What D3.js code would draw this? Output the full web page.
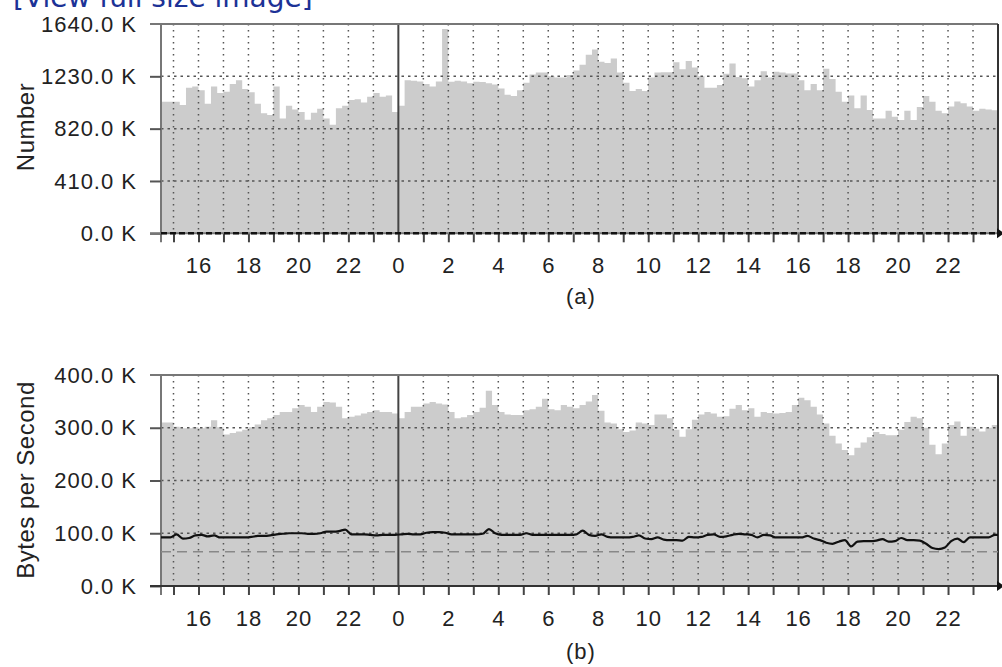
<!DOCTYPE html>
<html>
<head>
<meta charset="utf-8">
<script src="https://d3js.org/d3.v7.min.js"></script>
<style>
  body { margin: 0; background: #fff; }
  svg { display: block; font-family: "Liberation Sans", Arial, Helvetica, sans-serif; }
</style>
</head>
<body>
<div id="chart"></div>
<script>
// hours relative to midnight, 15 minute bins from 14:30 to 24:00 next day
var hourStart = -9.5;
var hourEnd = 24;
var binHours = 0.25;

// (a) number per bin, in K
var numberK = [
  1030, 1030, 1030, 1005, 1140, 1150, 1120, 1015, 1150, 1100,
  1110, 1170, 1200, 1130, 1105, 1015, 940, 927, 1150, 900,
  1000, 970, 950, 890, 945, 975, 900, 850, 980, 1000,
  1045, 1050, 1025, 1070, 1100, 1070, 1080, 950, 1000, 1200,
  1195, 1190, 1170, 1150, 1190, 1600, 1188, 1195, 1190, 1175,
  1188, 1185, 1175, 1165, 1135, 1085, 1075, 1120, 1180, 1245,
  1260, 1260, 1230, 1220, 1220, 1240, 1275, 1320, 1400, 1440,
  1345, 1335, 1370, 1260, 1180, 1115, 1130, 1115, 1220, 1260,
  1262, 1262, 1340, 1285, 1350, 1300, 1230, 1140, 1140, 1162,
  1250, 1330, 1225, 1214, 1150, 1200, 1270, 1220, 1266, 1260,
  1253, 1253, 1200, 1120, 1170, 1120, 1290, 1210, 1110, 1030,
  1080, 980, 1080, 967, 900, 900, 960, 914, 888, 960,
  888, 990, 1075, 1030, 960, 940, 993, 1032, 1020, 993,
  960, 975, 970, 965
];

// (b) bytes per second per bin, in K
var bytesK = [
  310, 310, 302, 299, 299, 301, 299, 302, 314, 301,
  287, 290, 293, 296, 301, 306, 314, 318, 324, 330,
  330, 337, 343, 340, 330, 340, 349, 348, 340, 318,
  321, 323, 327, 330, 333, 330, 330, 327, 318, 330,
  340, 340, 346, 349, 346, 344, 330, 318, 320, 324,
  330, 338, 370, 343, 330, 325, 324, 324, 333, 335,
  340, 355, 335, 333, 343, 340, 337, 343, 350, 362,
  332, 310, 308, 297, 292, 295, 310, 308, 305, 325,
  325, 318, 296, 283, 297, 315, 325, 330, 327, 321,
  322, 336, 343, 333, 337, 321, 330, 328, 327, 328,
  330, 343, 357, 352, 340, 325, 308, 285, 270, 258,
  248, 262, 272, 282, 292, 288, 286, 286, 296, 311,
  321, 318, 300, 268, 250, 270, 305, 312, 285, 302,
  298, 293, 300, 305
];

// (b) black line, in K
var rateK = [
  92, 92, 98, 90, 91, 96, 97, 94, 96, 92,
  92, 92, 92, 92, 93, 95, 95, 96, 98, 99,
  100, 100, 100, 99, 99, 100, 103, 103, 104, 107,
  98, 98, 98, 97, 96, 97, 97, 97, 98, 99,
  98, 98, 101, 102, 102, 101, 98, 98, 98, 98,
  98, 99, 108, 100, 97, 97, 97, 97, 100, 97,
  97, 97, 97, 97, 97, 97, 98, 105, 97, 95,
  98, 93, 92, 92, 92, 93, 96, 90, 89, 92,
  88, 87, 87, 86, 93, 92, 93, 97, 98, 93,
  94, 97, 99, 98, 97, 92, 97, 96, 92, 92,
  92, 92, 92, 95, 90, 87, 82, 80, 84, 87,
  75, 84, 85, 85, 86, 89, 84, 85, 91, 87,
  87, 86, 80, 72, 70, 73, 85, 90, 83, 92,
  92, 92, 92, 97
];

var numberTicks = [0, 410, 820, 1230, 1640];
var bytesTicks = [0, 100, 200, 300, 400];
var hourTicks = d3.range(-9, 24);
var hourLabels = d3.range(-8, 24, 2);
var bytesDashK = 65;

var svgWidth = 1002;
var svgHeight = 667;

var svg = d3.select("#chart")
  .append("svg")
  .attr("width", svgWidth)
  .attr("height", svgHeight);

// cut-off link text at the very top
svg.append("text")
  .attr("x", 13)
  .attr("y", 7)
  .attr("font-family", "'DejaVu Sans', Verdana, sans-serif")
  .attr("font-size", 28)
  .attr("fill", "#1c3296")
  .text("[View full size image]");

var xScale = d3.scaleLinear()
  .domain([hourStart, hourEnd])
  .range([161, 998]);

var fmtK = v => d3.format(".1f")(v) + " K";

function drawPanel(cfg) {
  var g = svg.append("g");
  var yScale = d3.scaleLinear()
    .domain([0, cfg.ticks[cfg.ticks.length - 1]])
    .range([cfg.bottom, cfg.top]);

  // step area
  var pts = cfg.values.map((v, i) => [hourStart + i * binHours, v]);
  pts.push([hourEnd, cfg.values[cfg.values.length - 1]]);

  var area = d3.area()
    .x(d => xScale(d[0]))
    .y0(yScale(0))
    .y1(d => yScale(d[1]))
    .curve(d3.curveStepAfter);

  g.append("path")
    .datum(pts)
    .attr("d", area)
    .attr("fill", "#cccccc");

  // dotted grid
  g.selectAll(".vgrid")
    .data(hourTicks.filter(h => h !== 0))
    .enter()
    .append("line")
    .attr("x1", d => xScale(d))
    .attr("x2", d => xScale(d))
    .attr("y1", cfg.top)
    .attr("y2", cfg.bottom)
    .attr("stroke", "#555")
    .attr("stroke-width", 1.5)
    .attr("stroke-dasharray", "1.5,4.5");

  g.selectAll(".hgrid")
    .data(cfg.ticks.slice(1, -1))
    .enter()
    .append("line")
    .attr("x1", xScale(hourStart))
    .attr("x2", xScale(hourEnd))
    .attr("y1", d => yScale(d))
    .attr("y2", d => yScale(d))
    .attr("stroke", "#555")
    .attr("stroke-width", 1.5)
    .attr("stroke-dasharray", "2.5,4");

  // midnight line
  g.append("line")
    .attr("x1", xScale(0)).attr("x2", xScale(0))
    .attr("y1", cfg.top).attr("y2", cfg.bottom)
    .attr("stroke", "#444")
    .attr("stroke-width", 2);

  // frame
  g.append("line")
    .attr("x1", 150).attr("x2", xScale(hourEnd))
    .attr("y1", cfg.top).attr("y2", cfg.top)
    .attr("stroke", "#777").attr("stroke-width", 2);
  g.append("line")
    .attr("x1", xScale(hourStart)).attr("x2", xScale(hourStart))
    .attr("y1", cfg.top).attr("y2", cfg.bottom + 9)
    .attr("stroke", "#777").attr("stroke-width", 2);
  g.append("line")
    .attr("x1", xScale(hourEnd)).attr("x2", xScale(hourEnd))
    .attr("y1", cfg.top).attr("y2", cfg.bottom)
    .attr("stroke", "#333").attr("stroke-width", 2);

  // y axis
  var yAxis = g.append("g")
    .attr("transform", `translate(${xScale(hourStart)}, 0)`)
    .call(d3.axisLeft(yScale)
      .tickValues(cfg.ticks.slice(0, -1))
      .tickSize(11)
      .tickPadding(13)
      .tickFormat(fmtK));
  yAxis.select(".domain").remove();
  yAxis.selectAll("line").attr("stroke", "#555").attr("stroke-width", 2);

  g.append("text")
    .attr("x", xScale(hourStart) - 24)
    .attr("y", cfg.top)
    .attr("dy", "0.35em")
    .attr("text-anchor", "end")
    .text(fmtK(cfg.ticks[cfg.ticks.length - 1]));

  // x axis
  var xAxis = g.append("g")
    .attr("transform", `translate(0, ${cfg.bottom})`)
    .call(d3.axisBottom(xScale)
      .tickValues(hourTicks)
      .tickSize(9)
      .tickPadding(15)
      .tickFormat(h => hourLabels.indexOf(h) >= 0 ? (h + 24) % 24 : ""));
  xAxis.select(".domain").remove();
  xAxis.selectAll("line").attr("stroke", "#444").attr("stroke-width", 2);

  g.append("line")
    .attr("x1", 150).attr("x2", xScale(hourEnd))
    .attr("y1", cfg.bottom).attr("y2", cfg.bottom)
    .attr("stroke", cfg.zeroDash ? "#777" : "#333")
    .attr("stroke-width", 2);

  if (cfg.zeroDash) {
    g.append("line")
      .attr("x1", xScale(hourStart)).attr("x2", xScale(hourEnd))
      .attr("y1", cfg.bottom).attr("y2", cfg.bottom)
      .attr("stroke", "#111")
      .attr("stroke-width", 2.5)
      .attr("stroke-dasharray", "6,3");
  }

  g.append("path")
    .attr("d", `M${xScale(hourEnd) - 1},${cfg.bottom - 5}L${xScale(hourEnd) + 6},${cfg.bottom}L${xScale(hourEnd) - 1},${cfg.bottom + 5}Z`)
    .attr("fill", "#111");

  g.selectAll(".tick text, text")
    .attr("font-size", 22)
    .attr("letter-spacing", 1)
    .attr("fill", "#222");

  // dashed reference level
  if (cfg.dashLevel != null) {
    g.append("line")
      .attr("x1", xScale(hourStart)).attr("x2", xScale(hourEnd))
      .attr("y1", yScale(cfg.dashLevel)).attr("y2", yScale(cfg.dashLevel))
      .attr("stroke", "#888")
      .attr("stroke-width", 1.5)
      .attr("stroke-dasharray", "10,6");
  }

  // black line
  if (cfg.line) {
    var lpts = cfg.line.map((v, i) => [hourStart + (i + 0.5) * binHours, v]);
    lpts.unshift([hourStart, cfg.line[0]]);
    lpts.push([hourEnd, cfg.line[cfg.line.length - 1]]);
    var line = d3.line()
      .x(d => xScale(d[0]))
      .y(d => yScale(d[1]))
      .curve(d3.curveMonotoneX);
    g.append("path")
      .datum(lpts)
      .attr("d", line)
      .attr("fill", "none")
      .attr("stroke", "#111")
      .attr("stroke-width", 2.2);
  }

  // axis title
  g.append("text")
    .attr("transform", `translate(34, ${cfg.titleY}) rotate(-90)`)
    .attr("text-anchor", "middle")
    .attr("font-size", 24)
    .attr("letter-spacing", 0.5)
    .attr("fill", "#222")
    .text(cfg.title);

  // panel caption
  g.append("text")
    .attr("x", 581)
    .attr("y", cfg.captionY)
    .attr("text-anchor", "middle")
    .attr("font-size", 22)
    .attr("letter-spacing", 1)
    .attr("fill", "#222")
    .text(cfg.caption);
}

drawPanel({
  top: 24,
  bottom: 233.3,
  values: numberK,
  ticks: numberTicks,
  zeroDash: true,
  title: "Number",
  titleY: 127,
  caption: "(a)",
  captionY: 304
});

drawPanel({
  top: 375,
  bottom: 586,
  values: bytesK,
  ticks: bytesTicks,
  line: rateK,
  dashLevel: bytesDashK,
  title: "Bytes per Second",
  titleY: 480,
  caption: "(b)",
  captionY: 659
});
</script>
</body>
</html>
